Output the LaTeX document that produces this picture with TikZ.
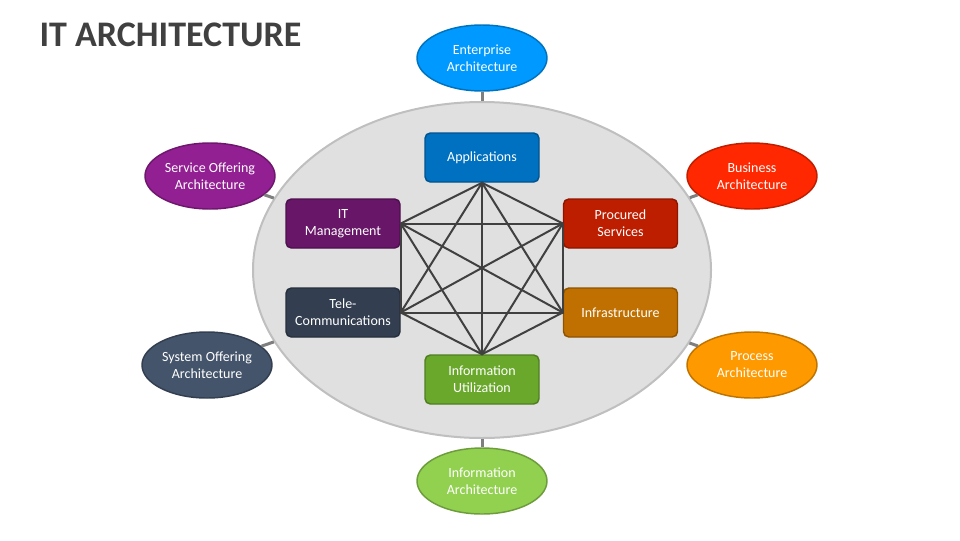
\documentclass[tikz,border=0pt]{standalone}
\usepackage{fontspec}
\setmainfont{Carlito}
\usetikzlibrary{shapes.geometric}

\definecolor{titleGray}{RGB}{64,64,64}
\definecolor{hubFill}{RGB}{224,224,224}
\definecolor{hubLine}{RGB}{191,191,191}
\definecolor{stubGray}{RGB}{127,127,127}
\definecolor{linkGray}{RGB}{64,64,64}
% outer ovals
\definecolor{entBlue}{RGB}{0,153,255}
\definecolor{svcPurple}{RGB}{146,32,146}
\definecolor{busRed}{RGB}{255,40,0}
\definecolor{sysSlate}{RGB}{68,84,106}
\definecolor{procOrange}{RGB}{255,153,0}
\definecolor{infGreen}{RGB}{146,208,80}
% inner boxes
\definecolor{appBlue}{RGB}{0,112,192}
\definecolor{itmPurple}{RGB}{104,22,104}
\definecolor{prcRed}{RGB}{190,30,0}
\definecolor{telSlate}{RGB}{51,63,80}
\definecolor{infraBrown}{RGB}{192,112,0}
\definecolor{utlGreen}{RGB}{106,168,44}

\tikzset{every picture/.style={line width=0.75pt}}
\tikzset{
  archbox/.style={draw, rounded corners=4pt, line width=1.1pt, minimum width=85.5pt, minimum height=36.75pt, inner sep=0pt, text=white, align=center, font=\fontsize{10.5}{12.75}\selectfont},
  archoval/.style={ellipse, draw, line width=1.1pt, minimum width=97.5pt, minimum height=49.5pt, inner sep=0pt, text=white, align=center, font=\fontsize{10.5}{12.75}\selectfont},
  stub/.style={draw=stubGray, line width=2.25pt},
  link/.style={draw=linkGray, line width=1.5pt}
}

\begin{document}
\begin{tikzpicture}[x=0.75pt,y=0.75pt,yscale=-1,xscale=1]
\path[use as bounding box] (0,0) rectangle (960,540);

% Text Node
\node (title) [anchor=base west, inner sep=0pt, text=titleGray, font=\fontsize{27}{33}\selectfont\bfseries] at (39,46.5) {IT ARCHITECTURE};

%Shape: Ellipse (hub)
\node (hub) [ellipse, draw=hubLine, fill=hubFill, line width=1.5pt, minimum width=343.5pt, minimum height=252pt, inner sep=0pt] at (482,270) {};

%Shape: Outer ovals
\node (ent) [archoval, fill=entBlue, draw=entBlue!75!black] at (482,58) {Enterprise\\Architecture};
\node (svc) [archoval, fill=svcPurple, draw=svcPurple!75!black] at (210,176) {Service Offering\\Architecture};
\node (bus) [archoval, fill=busRed, draw=busRed!75!black] at (752,176) {Business\\Architecture};
\node (sys) [archoval, fill=sysSlate, draw=sysSlate!75!black] at (207,365) {System Offering\\Architecture};
\node (prc) [archoval, fill=procOrange, draw=procOrange!75!black] at (752,365) {Process\\Architecture};
\node (inf) [archoval, fill=infGreen, draw=infGreen!75!black] at (482,481) {Information\\Architecture};

%Straight Lines: stubs to hub
\foreach \o in {ent,svc,bus,sys,prc,inf}
  \draw[stub] (\o) -- (hub);

%Shape: Boxes
\node (app) [archbox, fill=appBlue, draw=appBlue!75!black] at (482,157.5) {Applications};
\node (itm) [archbox, fill=itmPurple, draw=itmPurple!75!black] at (343,223.5) {IT\\Management};
\node (pcs) [archbox, fill=prcRed, draw=prcRed!75!black] at (620.5,223.5) {Procured\\Services};
\node (tel) [archbox, fill=telSlate, draw=telSlate!75!black] at (343,312.5) {Tele-\\Communications};
\node (ifr) [archbox, fill=infraBrown, draw=infraBrown!75!black] at (620.5,312.5) {Infrastructure};
\node (utl) [archbox, fill=utlGreen, draw=utlGreen!75!black] at (482,379.5) {Information\\Utilization};

%Straight Lines: mesh between boxes
\coordinate (p1) at (app.south);
\coordinate (p2) at (pcs.west);
\coordinate (p3) at (ifr.west);
\coordinate (p4) at (utl.north);
\coordinate (p5) at (tel.east);
\coordinate (p6) at (itm.east);
\foreach \a/\b in {1/2,1/3,1/4,1/5,1/6,2/3,2/4,2/5,2/6,3/4,3/5,3/6,4/5,4/6,5/6}
  \draw[link, line cap=round] (p\a) -- (p\b);

\end{tikzpicture}
\end{document}
